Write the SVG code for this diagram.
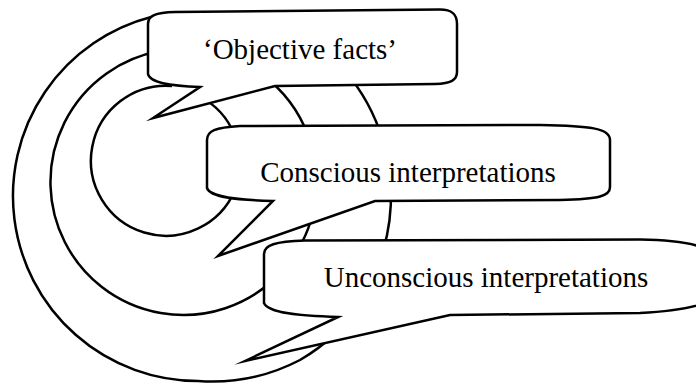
<svg xmlns="http://www.w3.org/2000/svg" width="696" height="384" viewBox="0 0 696 384">
<style>
.arc{fill:none;stroke:#000;stroke-width:2.5}
.bubble{fill:#fff;stroke:#000;stroke-width:2.5;stroke-linejoin:miter;stroke-miterlimit:10}
.label{font-family:"Liberation Serif","Times New Roman",serif;font-size:29px;fill:#000;text-anchor:middle}
</style>
<rect width="696" height="384" fill="#fff"/>
<g id="connectors">
<path class="arc" d="M152,16.8 A185,185 0 0 0 198,381 A190,190 0 0 0 300,360 A193,193 0 0 0 335,334"/>
<path class="arc" d="M344.2,70 A193,193 0 0 1 382.7,140"/>
<path class="arc" d="M390.9,190 A193,193 0 0 1 383.3,250"/>
<path class="arc" d="M160,51.1 A133,133 0 1 0 275,278.5"/>
<path class="arc" d="M262.5,75 A133,133 0 0 1 307.9,135"/>
<path class="arc" d="M316.3,190 A133,133 0 0 1 297.8,250"/>
<path class="arc" d="M172,86 A75,75 0 1 0 235,190"/>
<path class="arc" d="M198.7,96 A75,75 0 0 1 234.6,135"/>
</g>
<g id="objective-facts">
<path class="bubble" d="M148,24 C148,16 155,12.5 175,12 L440,9.5 C452,9.5 457,14 457,24 L457,72 C457,80 451,83.5 435,84 L275,86 L153,118 L200,87 C172,86 150,83 148,74 Z"/>
<text class="label" x="300" y="58.5">‘Objective facts’</text>
</g>
<g id="conscious-interpretations">
<path class="bubble" d="M207,140 C207,131 215,127.5 240,126 L540,125 C590,126 610,128 610,140 L610,187 C610,196 600,199 560,200 L375,201 L218,256 L273,201 C235,200 210,197 207,188 Z"/>
<text class="label" x="408" y="182">Conscious interpretations</text>
</g>
<g id="unconscious-interpretations">
<path class="bubble" d="M264,254 C264,245 275,241.5 305,240.5 L640,239.5 C675,240 700,244 712,252 L712,300 C700,306 675,311 640,313 L450,315 L245,361 L338,317 C300,316 268,313 264,303 Z"/>
<text class="label" x="486" y="287">Unconscious interpretations</text>
</g>
</svg>
